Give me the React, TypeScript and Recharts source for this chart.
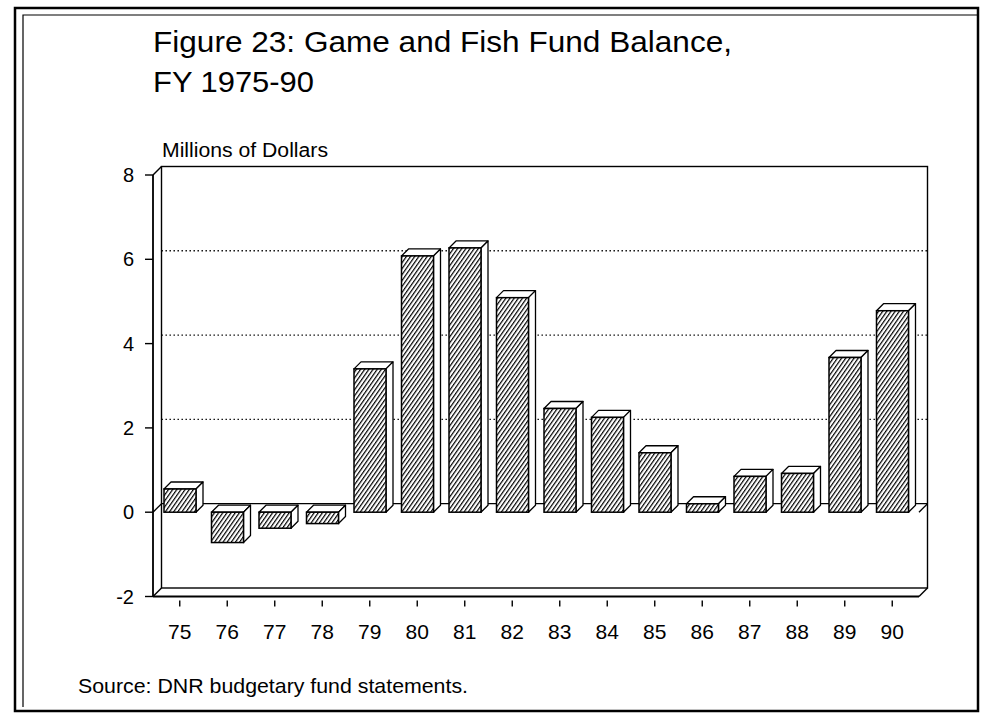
import { Bar, BarChart, CartesianGrid, ReferenceArea, XAxis, YAxis } from 'recharts'

const YEARS = ['75', '76', '77', '78', '79', '80', '81', '82', '83', '84', '85', '86', '87', '88', '89', '90']
const BALANCE = [0.55, -0.72, -0.38, -0.27, 3.4, 6.08, 6.27, 5.09, 2.46, 2.25, 1.41, 0.2, 0.85, 0.92, 3.67, 4.78]
const Y_TICKS = [-2, 0, 2, 4, 6, 8]

const FONT = '"Liberation Sans", Arial, Helvetica, sans-serif'
const WALL = 8.5 // depth of the back wall behind the front axes
const BAR_DEPTH = 7
const BAND_PAD = 3 // gap between the front axis and the first/last band
const INK = '#000'

const data = YEARS.map((year, i) => ({ year, balance: BALANCE[i] }))

function Bar3D(props: any) {
  const { x, y, width, height } = props
  if (x == null || y == null) return null
  const top = Math.min(y, y + height)
  const h = Math.abs(height)
  const d = BAR_DEPTH
  const r = x + width
  return (
    <g>
      <polygon
        points={`${x},${top} ${x + d},${top - d} ${r + d},${top - d} ${r},${top}`}
        fill="#fff"
        stroke={INK}
        strokeWidth={1.3}
        strokeLinejoin="round"
      />
      <polygon
        points={`${r},${top} ${r + d},${top - d} ${r + d},${top + h - d} ${r},${top + h}`}
        fill="#fff"
        stroke={INK}
        strokeWidth={1.3}
        strokeLinejoin="round"
      />
      <rect x={x} y={top} width={width} height={h} fill="url(#hatch)" stroke={INK} strokeWidth={1.5} />
    </g>
  )
}

// open box: front axes, floor edge and back wall
function Box(props: any) {
  const x = props.x - BAND_PAD
  const w = props.width + BAND_PAD * 2
  const { y, height } = props
  const b = y + height
  const r = x + w
  const d = WALL
  return (
    <g fill="none" stroke={INK} strokeWidth={1.4}>
      <rect x={x + d} y={y - d} width={w} height={height} />
      <line x1={x} y1={y} x2={x} y2={b} />
      <line x1={x} y1={b} x2={r} y2={b} strokeWidth={1.8} />
      <line x1={x} y1={y} x2={x + d} y2={y - d} />
      <line x1={x} y1={b} x2={x + d} y2={b - d} />
      <line x1={r} y1={b} x2={r + d} y2={b - d} />
    </g>
  )
}

function GridLine(props: any) {
  const { x1, x2, y1, index } = props
  const value = Y_TICKS[index]
  const d = WALL
  if (value === Y_TICKS[0] || value === Y_TICKS[Y_TICKS.length - 1]) return <g key={props.key} />
  if (value === 0) {
    return (
      <g key={props.key} stroke={INK} strokeWidth={1.3}>
        <line x1={x1 + d} y1={y1 - d} x2={x2 + d} y2={y1 - d} />
        <line x1={x1} y1={y1} x2={x1 + d} y2={y1 - d} />
        <line x1={x2} y1={y1} x2={x2 + d} y2={y1 - d} />
      </g>
    )
  }
  return (
    <line
      key={props.key}
      x1={x1 + d}
      y1={y1 - d}
      x2={x2 + d}
      y2={y1 - d}
      stroke={INK}
      strokeWidth={1.4}
      strokeDasharray="1.4 2.6"
    />
  )
}

function YearTick({ x, y, payload }: any) {
  return (
    <g>
      <line x1={x} y1={y + 4} x2={x} y2={y + 10} stroke={INK} strokeWidth={1.4} />
      <text x={x} y={y + 42} textAnchor="middle" fontSize={21} fill={INK} fontFamily={FONT}>
        {payload.value}
      </text>
    </g>
  )
}

export default function App() {
  return (
    <div style={{ position: 'absolute', left: 0, top: 0, width: 985, height: 716, background: '#fff' }}>
      <BarChart
        width={985}
        height={716}
        data={data}
        margin={{ top: 175, right: 66, bottom: 89.5, left: 0 }}
        style={{ position: 'absolute', left: 0, top: 0 }}
      >
        <defs>
          <pattern id="hatch" patternUnits="userSpaceOnUse" width={3.4} height={3.4} patternTransform="rotate(35)">
            <rect width={3.4} height={3.4} fill="#fff" />
            <line x1={0.6} y1={0} x2={0.6} y2={3.4} stroke={INK} strokeWidth={1.2} />
          </pattern>
        </defs>
        <CartesianGrid vertical={false} horizontal={GridLine} />
        <ReferenceArea y1={-2} y2={8} shape={Box} ifOverflow="visible" />
        <XAxis
          dataKey="year"
          height={30}
          padding={{ left: BAND_PAD, right: BAND_PAD }}
          axisLine={false}
          tickLine={false}
          tickSize={0}
          tickMargin={0}
          tick={YearTick}
          interval={0}
        />
        <YAxis
          width={153}
          domain={[-2, 8]}
          ticks={Y_TICKS}
          allowDataOverflow
          axisLine={{ stroke: INK, strokeWidth: 1.4 }}
          tickLine={{ stroke: INK, strokeWidth: 1.4 }}
          tickSize={8}
          tickMargin={11}
          tick={{ fontSize: 20, fill: INK, fontFamily: FONT }}
        />
        <Bar dataKey="balance" barSize={32} shape={Bar3D} isAnimationActive={false} />
      </BarChart>
      <svg
        width={985}
        height={716}
        style={{ position: 'absolute', left: 0, top: 0, pointerEvents: 'none' }}
        fontFamily={FONT}
        fill={INK}
      >
        <rect x={15} y={8} width={963} height={703} fill="none" stroke={INK} strokeWidth={2.5} />
        <polyline points="23,707 23,15 978,15" fill="none" stroke={INK} strokeWidth={1.2} />
        <text x={153} y={52} fontSize={30} textLength={579} lengthAdjust="spacingAndGlyphs">
          Figure 23: Game and Fish Fund Balance,
        </text>
        <text x={153} y={92} fontSize={30} textLength={161} lengthAdjust="spacingAndGlyphs">
          FY 1975-90
        </text>
        <text x={162} y={157} fontSize={20} textLength={166} lengthAdjust="spacingAndGlyphs">
          Millions of Dollars
        </text>
        <text x={78} y={693} fontSize={21} textLength={390} lengthAdjust="spacingAndGlyphs">
          Source: DNR budgetary fund statements.
        </text>
      </svg>
    </div>
  )
}
